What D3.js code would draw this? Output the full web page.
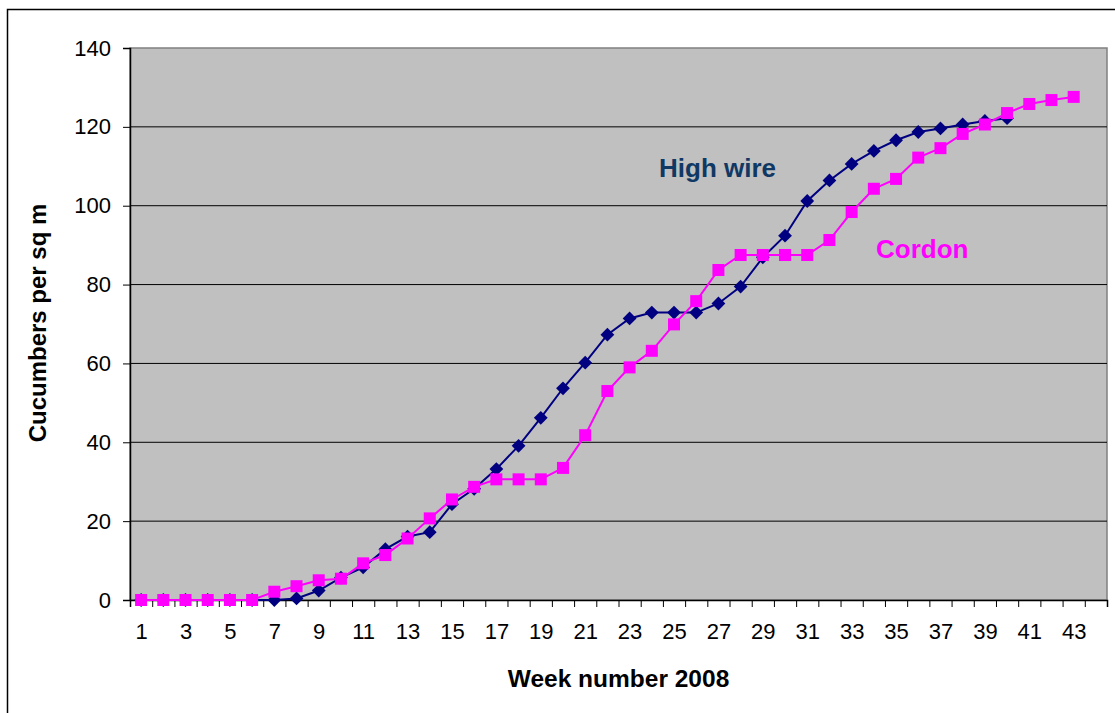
<!DOCTYPE html>
<html>
<head>
<meta charset="utf-8">
<script src="https://cdn.jsdelivr.net/npm/d3@7"></script>
<style>
  body { margin: 0; background: #fff; }
  svg { font-family: Arial, "Liberation Sans", sans-serif; }
</style>
</head>
<body>
<svg id="chart" style="width:1115px;height:713px" width="1115" height="713"></svg>
<script>
const weeks = [1, 2, 3, 4, 5, 6, 7, 8, 9, 10, 11, 12, 13, 14, 15, 16, 17, 18, 19, 20, 21, 22,
  23, 24, 25, 26, 27, 28, 29, 30, 31, 32, 33, 34, 35, 36, 37, 38, 39, 40, 41, 42, 43, 44];
const weekLabels = [1, 3, 5, 7, 9, 11, 13, 15, 17, 19, 21, 23, 25, 27, 29, 31, 33, 35, 37, 39, 41, 43];

// weeks 1..40
const highWire = [0, 0, 0, 0, 0, 0, 0, 0.4, 2.4, 5.7, 8.3, 12.9, 16.1, 17.2, 24.3, 28.2, 33.2,
  39.1, 46.2, 53.7, 60.2, 67.3, 71.4, 72.9, 72.9, 72.9, 75.2, 79.5, 86.9, 92.4, 101.2, 106.4,
  110.6, 113.9, 116.6, 118.7, 119.6, 120.6, 121.5, 122.2];

// weeks 1..43
const cordon = [0, 0, 0, 0, 0, 0, 2.1, 3.5, 5.0, 5.4, 9.3, 11.4, 15.6, 20.7, 25.5, 28.7, 30.6,
  30.6, 30.6, 33.5, 41.8, 53.0, 59.0, 63.2, 69.9, 75.8, 83.7, 87.5, 87.5, 87.5, 87.5, 91.3,
  98.4, 104.3, 106.8, 112.2, 114.6, 118.2, 120.6, 123.5, 125.8, 126.8, 127.6];

const yTicks = [0, 20, 40, 60, 80, 100, 120, 140];

d3.select(window).on('load', init);

function init() {
  const svg = d3.select('#chart');

  const left = 130, right = 1107, top = 48, bottom = 600;

  // outer chart frame (runs off the right and bottom edge)
  svg.append('rect')
    .attr('x', 7.5).attr('y', 9.5)
    .attr('width', 1200).attr('height', 800)
    .attr('fill', 'none')
    .attr('stroke', '#000')
    .attr('stroke-width', 1.5);

  const xScale = d3.scaleLinear()
    .domain([weeks[0] - 0.5, weeks[weeks.length - 1] + 0.5])
    .range([left, right]);

  const yScale = d3.scaleLinear()
    .domain([0, 140])
    .range([bottom, top]);

  // plot area
  svg.append('rect')
    .attr('x', left).attr('y', top)
    .attr('width', right - left).attr('height', bottom - top)
    .attr('fill', '#c0c0c0')
    .attr('stroke', '#808080')
    .attr('stroke-width', 1.5);

  // gridlines
  svg.append('g')
    .selectAll('line')
    .data(yTicks.filter(d => d > 0 && d < 140))
    .enter()
    .append('line')
    .attr('x1', left).attr('x2', right)
    .attr('y1', d => yScale(d)).attr('y2', d => yScale(d))
    .attr('stroke', '#000')
    .attr('stroke-width', 1);

  // y axis
  const yAxis = svg.append('g')
    .attr('transform', 'translate(' + left + ',0)')
    .call(d3.axisLeft(yScale).tickValues(yTicks).tickSize(7).tickPadding(12));
  yAxis.select('.domain').attr('stroke', '#000').attr('stroke-width', 1.5);
  yAxis.selectAll('.tick line').attr('stroke', '#000');
  yAxis.selectAll('.tick text')
    .attr('font-size', '22px')
    .attr('fill', '#000')
    .attr('font-family', 'Arial, "Liberation Sans", sans-serif');

  // x axis: tick marks between categories, labels on every other week
  const bounds = weeks.map(w => w - 0.5).concat([weeks[weeks.length - 1] + 0.5]);
  const xTickAxis = svg.append('g')
    .attr('transform', 'translate(0,' + bottom + ')')
    .call(d3.axisBottom(xScale).tickValues(bounds).tickSize(7).tickFormat(''));
  xTickAxis.select('.domain').attr('stroke', '#000').attr('stroke-width', 1.5);
  xTickAxis.selectAll('.tick line').attr('stroke', '#000');

  const xLabelAxis = svg.append('g')
    .attr('transform', 'translate(0,' + bottom + ')')
    .call(d3.axisBottom(xScale).tickValues(weekLabels).tickSize(0).tickPadding(23));
  xLabelAxis.select('.domain').remove();
  xLabelAxis.selectAll('.tick text')
    .attr('font-size', '22px')
    .attr('fill', '#000')
    .attr('font-family', 'Arial, "Liberation Sans", sans-serif');

  // series
  const line = d3.line()
    .x((d, i) => xScale(weeks[i]))
    .y(d => yScale(d));

  svg.append('path')
    .attr('d', line(highWire))
    .attr('fill', 'none')
    .attr('stroke', '#000080')
    .attr('stroke-width', 2);

  const diamond = d3.symbol().type(d3.symbolSquare).size(95);
  svg.append('g')
    .selectAll('path')
    .data(highWire)
    .enter()
    .append('path')
    .attr('d', diamond)
    .attr('transform', (d, i) => 'translate(' + xScale(weeks[i]) + ',' + yScale(d) + ') rotate(45)')
    .attr('fill', '#000080');

  svg.append('path')
    .attr('d', line(cordon))
    .attr('fill', 'none')
    .attr('stroke', '#ff00ff')
    .attr('stroke-width', 2);

  svg.append('g')
    .selectAll('rect')
    .data(cordon)
    .enter()
    .append('rect')
    .attr('x', (d, i) => xScale(weeks[i]) - 6)
    .attr('y', d => yScale(d) - 6)
    .attr('width', 12).attr('height', 12)
    .attr('fill', '#ff00ff');

  // series labels
  svg.append('text')
    .attr('x', 659).attr('y', 177)
    .attr('font-size', '26px')
    .attr('font-weight', 'bold')
    .attr('fill', '#103864')
    .text('High wire');

  svg.append('text')
    .attr('x', 876).attr('y', 258)
    .attr('font-size', '26px')
    .attr('font-weight', 'bold')
    .attr('fill', '#ff00ff')
    .text('Cordon');

  // axis titles
  svg.append('text')
    .attr('x', (left + right) / 2).attr('y', 687)
    .attr('text-anchor', 'middle')
    .attr('font-size', '24.5px')
    .attr('font-weight', 'bold')
    .attr('fill', '#000')
    .text('Week number 2008');

  svg.append('text')
    .attr('transform', 'translate(46,323) rotate(-90)')
    .attr('text-anchor', 'middle')
    .attr('font-size', '24px')
    .attr('font-weight', 'bold')
    .attr('fill', '#000')
    .text('Cucumbers per sq m');
}
</script>
</body>
</html>
